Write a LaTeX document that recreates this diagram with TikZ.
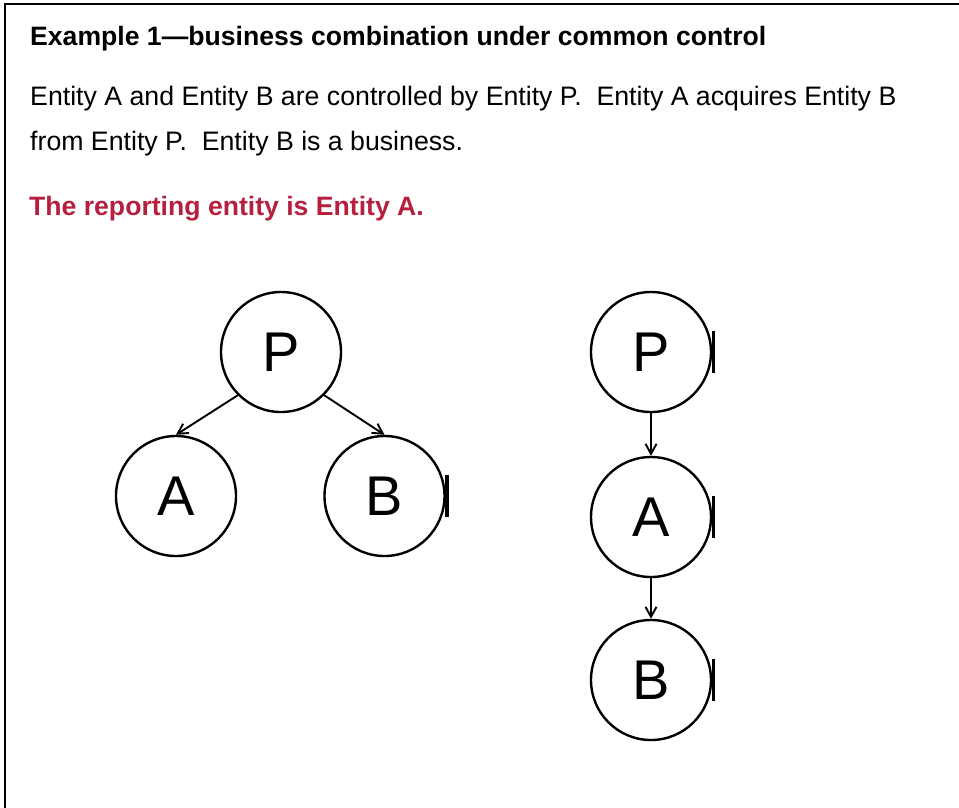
\documentclass[tikz,border=0pt]{standalone}
\usepackage{fontspec}
\setmainfont{Liberation Sans}
\usetikzlibrary{arrows.meta}
\definecolor{repred}{RGB}{182,32,62}
\begin{document}
\frenchspacing
\begin{tikzpicture}[x=1pt,y=-1pt,
  txt/.style={anchor=base west,inner sep=0pt,font=\fontsize{26.7}{30}\selectfont},
  ent/.style={circle,draw,line width=2.4pt,minimum size=120pt,inner sep=0pt,font=\fontsize{56}{60}\selectfont},
  arr/.style={line width=1.9pt,-{Straight Barb[length=10pt,width=11pt]}},
  edgemark/.style={line width=3.5pt}]
\useasboundingbox (0,0) rectangle (959,807);
\draw[line width=2.5pt] (5,808) -- (5,4.2) -- (960,4.2);
\node[txt,font=\fontsize{26.6}{30}\selectfont\bfseries] (title) at (30,45.5) {Example 1---business combination under common control};
\node[txt] (l1) at (30,105) {Entity A and Entity B are controlled by Entity P.~~Entity A acquires Entity B};
\node[txt] (l2) at (30,150) {from Entity P.~~Entity B is a business.};
\node[txt,font=\fontsize{26.6}{30}\selectfont\bfseries,text=repred] (rep) at (29,215) {The reporting entity is Entity A.};
% left tree
\node[ent] (P1) at (281,352) {P};
\node[ent] (A1) at (176,496) {A};
\node[ent] (B1) at (384.5,496) {B};
\draw[arr] (P1.-135) -- (A1.north);
\draw[arr] (P1.-45) -- (B1.north);
% right chain
\node[ent] (P2) at (651,352) {P};
\node[ent] (A2) at (651,517) {A};
\node[ent] (B2) at (651,680) {B};
\draw[arr] (P2.south) -- (A2.north);
\draw[arr] (A2.south) -- (B2.north);
% cropped edge marks
\foreach \n in {B1,P2,A2,B2}{
  \draw[edgemark] ([shift={(1.5,-21)}]\n.east) -- ([shift={(1.5,21)}]\n.east);
}
\end{tikzpicture}
\end{document}
